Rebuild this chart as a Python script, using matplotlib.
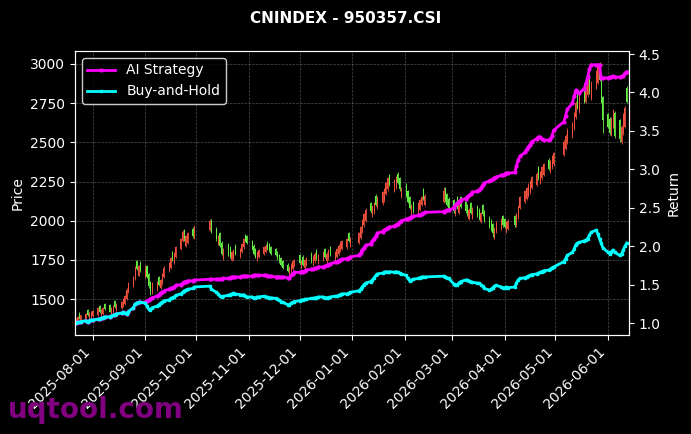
import numpy as np
import pandas as pd
import matplotlib
matplotlib.use("Agg")
import matplotlib.pyplot as plt
import matplotlib.dates as mdates

# trading calendar (weekdays minus exchange holidays)
holidays = ['2025-10-01', '2025-10-02', '2025-10-03', '2025-10-06', '2025-10-07', '2025-10-08',
            '2026-01-01', '2026-01-02',
            '2026-02-16', '2026-02-17', '2026-02-18', '2026-02-19', '2026-02-20', '2026-02-23',
            '2026-04-06', '2026-05-01', '2026-05-04', '2026-05-05']
dates = pd.bdate_range('2025-07-22', '2026-06-12')
dates = dates[~dates.isin(pd.to_datetime(holidays))]

# daily OHLC, one line per month (Jul .. Jun)
open_ = [1340, 1350, 1410, 1360, 1370, 1430, 1375, 1385,
         1390, 1400, 1455, 1395, 1405, 1470, 1460, 1400, 1415, 1490, 1430, 1440, 1455, 1470, 1500, 1545, 1580, 1630, 1740, 1650, 1735,
         1640, 1710, 1660, 1610, 1540, 1560, 1640, 1570, 1600, 1640, 1680, 1700, 1800, 1730, 1770, 1820, 1870, 1940, 1840, 1860, 1950, 1890,
         1940, 2000, 1950, 1850, 1920, 1860, 1760, 1850, 1830, 1750, 1760, 1840, 1770, 1800, 1830, 1910, 1900,
         1870, 1840, 1820, 1750, 1770, 1790, 1800, 1860, 1850, 1830, 1820, 1800, 1780, 1760, 1740, 1720, 1660, 1670, 1690, 1710,
         1780, 1700, 1770, 1700, 1720, 1790, 1720, 1740, 1810, 1730, 1750, 1820, 1740, 1760, 1830, 1750, 1770, 1790, 1810, 1820, 1830, 1920, 1840,
         1860, 1890, 1930, 1970, 2000, 2110, 2030, 2050, 2160, 2080, 2110, 2130, 2170, 2200, 2290, 2190, 2210, 2300, 2270, 2150,
         2230, 2190, 2150, 2040, 2120, 2050, 2070, 2100, 2200, 2100, 2120, 2210, 2170, 2140,
         2130, 2040, 2150, 2050, 2150, 2120, 2100, 2010, 2110, 2020, 2090, 2070, 1990, 2100, 2060, 2020, 2000, 1980, 1890, 1930, 1950, 2030,
         2010, 1930, 1950, 2030, 1970, 2020, 2080, 2120, 2140, 2160, 2180, 2210, 2230, 2340, 2240, 2270, 2290, 2390, 2310, 2340, 2360,
         2420, 2460, 2500, 2540, 2590, 2660, 2820, 2700, 2870, 2760, 2800, 2930, 2780, 2850, 2880, 3000, 2900, 2790,
         2680, 2650, 2550, 2600, 2690, 2640, 2500, 2560, 2600, 2850]
high = [1380, 1392, 1415, 1400, 1410, 1436, 1418, 1426,
        1432, 1448, 1462, 1436, 1452, 1476, 1466, 1446, 1462, 1496, 1476, 1488, 1508, 1528, 1568, 1610, 1650, 1712, 1748, 1720, 1742,
        1715, 1718, 1668, 1618, 1606, 1618, 1648, 1626, 1668, 1708, 1738, 1768, 1808, 1798, 1838, 1888, 1940, 1948, 1908, 1928, 1958, 1972,
        2012, 2008, 1958, 1908, 1928, 1868, 1828, 1858, 1838, 1808, 1818, 1848, 1828, 1858, 1888, 1918, 1908,
        1878, 1848, 1828, 1808, 1818, 1838, 1848, 1868, 1858, 1838, 1828, 1808, 1788, 1768, 1748, 1728, 1708, 1728, 1748, 1758,
        1788, 1748, 1778, 1758, 1768, 1798, 1778, 1798, 1818, 1788, 1808, 1828, 1798, 1818, 1838, 1808, 1828, 1848, 1868, 1878, 1888, 1928, 1898,
        1928, 1968, 2008, 2048, 2078, 2118, 2098, 2118, 2168, 2158, 2188, 2208, 2248, 2278, 2298, 2268, 2288, 2308, 2278, 2218,
        2238, 2198, 2158, 2108, 2128, 2118, 2138, 2158, 2208, 2168, 2215, 2218, 2178, 2148,
        2138, 2108, 2158, 2128, 2158, 2128, 2108, 2078, 2118, 2088, 2098, 2078, 2058, 2108, 2068, 2028, 2008, 1988, 1958, 1998, 2018, 2038,
        2018, 1998, 2008, 2038, 2048, 2098, 2158, 2198, 2218, 2238, 2258, 2288, 2308, 2348, 2318, 2348, 2368, 2398, 2388, 2418, 2438,
        2512, 2552, 2592, 2632, 2692, 2762, 2828, 2812, 2878, 2862, 2912, 2938, 2892, 2962, 2992, 3010, 2912, 2798,
        2690, 2660, 2660, 2710, 2700, 2650, 2610, 2690, 2730, 2860]
low = [1335, 1345, 1372, 1355, 1365, 1392, 1370, 1380,
       1384, 1394, 1408, 1388, 1398, 1428, 1414, 1394, 1408, 1444, 1424, 1434, 1448, 1464, 1494, 1538, 1574, 1622, 1682, 1644, 1672,
       1632, 1632, 1572, 1525, 1532, 1552, 1582, 1562, 1592, 1632, 1672, 1692, 1742, 1722, 1762, 1812, 1862, 1872, 1832, 1852, 1892, 1882,
       1932, 1922, 1872, 1842, 1832, 1782, 1752, 1772, 1762, 1742, 1752, 1782, 1762, 1792, 1822, 1862, 1852,
       1812, 1782, 1762, 1742, 1762, 1782, 1792, 1812, 1802, 1782, 1772, 1752, 1732, 1712, 1692, 1672, 1652, 1662, 1682, 1702,
       1722, 1692, 1712, 1692, 1712, 1732, 1712, 1732, 1752, 1722, 1742, 1762, 1732, 1752, 1772, 1742, 1762, 1782, 1802, 1812, 1822, 1862, 1832,
       1852, 1882, 1922, 1962, 1992, 2052, 2022, 2042, 2092, 2072, 2102, 2122, 2162, 2192, 2222, 2182, 2202, 2232, 2192, 2142,
       2152, 2112, 2072, 2032, 2052, 2042, 2062, 2092, 2132, 2092, 2112, 2122, 2092, 2072,
       2052, 2032, 2072, 2042, 2082, 2052, 2032, 2002, 2042, 2012, 2022, 2002, 1982, 2032, 1992, 1952, 1932, 1895, 1882, 1922, 1942, 1962,
       1952, 1922, 1942, 1962, 1962, 2012, 2072, 2112, 2132, 2152, 2172, 2202, 2222, 2262, 2232, 2262, 2282, 2322, 2302, 2332, 2352,
       2410, 2450, 2490, 2530, 2580, 2650, 2710, 2690, 2750, 2750, 2790, 2810, 2770, 2840, 2870, 2890, 2750, 2560,
       2590, 2550, 2540, 2590, 2530, 2500, 2490, 2550, 2590, 2750]
close = [1372, 1385, 1380, 1395, 1405, 1398, 1412, 1420,
         1425, 1440, 1415, 1430, 1445, 1435, 1420, 1440, 1455, 1450, 1470, 1480, 1500, 1520, 1560, 1600, 1640, 1700, 1690, 1710, 1680,
         1690, 1640, 1580, 1540, 1600, 1610, 1590, 1620, 1660, 1700, 1730, 1760, 1750, 1790, 1830, 1880, 1930, 1880, 1900, 1920, 1900, 1960,
         2000, 1930, 1880, 1900, 1840, 1790, 1820, 1780, 1770, 1800, 1810, 1790, 1820, 1850, 1880, 1870, 1860,
         1820, 1790, 1770, 1800, 1810, 1830, 1840, 1820, 1810, 1790, 1780, 1760, 1740, 1720, 1700, 1680, 1700, 1720, 1740, 1750,
         1730, 1740, 1720, 1750, 1760, 1740, 1770, 1790, 1760, 1780, 1800, 1770, 1790, 1810, 1780, 1800, 1820, 1840, 1860, 1870, 1880, 1870, 1890,
         1920, 1960, 2000, 2040, 2070, 2060, 2090, 2110, 2100, 2150, 2180, 2200, 2240, 2270, 2230, 2260, 2280, 2240, 2200, 2210,
         2160, 2120, 2080, 2100, 2060, 2110, 2130, 2150, 2140, 2160, 2190, 2130, 2100, 2080,
         2060, 2100, 2080, 2120, 2090, 2060, 2040, 2070, 2050, 2080, 2030, 2010, 2050, 2040, 2000, 1960, 1940, 1920, 1950, 1990, 2010, 1970,
         1960, 1990, 2000, 1970, 2040, 2090, 2150, 2190, 2210, 2230, 2250, 2280, 2300, 2270, 2310, 2340, 2360, 2330, 2380, 2410, 2430,
         2500, 2540, 2580, 2620, 2680, 2750, 2720, 2800, 2760, 2850, 2900, 2820, 2880, 2950, 2980, 2900, 2760, 2640,
         2600, 2560, 2650, 2700, 2540, 2520, 2600, 2680, 2720, 2760]

# cumulative returns
ai_strategy = [1.00, 1.01, 1.01, 1.02, 1.03, 1.02, 1.03, 1.04,
               1.04, 1.05, 1.05, 1.06, 1.07, 1.08, 1.08, 1.09, 1.10, 1.11, 1.12, 1.13, 1.14, 1.13, 1.12, 1.15, 1.20, 1.25, 1.26, 1.27, 1.27,
               1.27, 1.29, 1.30, 1.31, 1.33, 1.35, 1.37, 1.39, 1.40, 1.42, 1.44, 1.45, 1.46, 1.47, 1.49, 1.50, 1.52, 1.53, 1.54, 1.55, 1.55, 1.56,
               1.57, 1.57, 1.57, 1.57, 1.57, 1.57, 1.58, 1.58, 1.59, 1.60, 1.60, 1.60, 1.60, 1.61, 1.61, 1.61, 1.61,
               1.61, 1.62, 1.62, 1.62, 1.62, 1.62, 1.62, 1.61, 1.61, 1.61, 1.60, 1.60, 1.60, 1.60, 1.60, 1.59, 1.59, 1.62, 1.64, 1.66,
               1.66, 1.67, 1.67, 1.68, 1.69, 1.70, 1.70, 1.71, 1.72, 1.73, 1.73, 1.74, 1.75, 1.76, 1.77, 1.79, 1.80, 1.81, 1.82, 1.83, 1.84, 1.85, 1.86,
               1.88, 1.91, 1.95, 1.98, 2.01, 2.03, 2.07, 2.10, 2.13, 2.17, 2.19, 2.21, 2.22, 2.24, 2.25, 2.26, 2.28, 2.29, 2.31, 2.33,
               2.35, 2.36, 2.37, 2.38, 2.39, 2.40, 2.41, 2.42, 2.43, 2.44, 2.45, 2.46, 2.47, 2.47,
               2.50, 2.53, 2.56, 2.58, 2.60, 2.62, 2.64, 2.66, 2.68, 2.70, 2.72, 2.73, 2.76, 2.79, 2.82, 2.85, 2.86, 2.87, 2.89, 2.90, 2.92, 2.93,
               2.94, 2.95, 2.95, 2.96, 3.04, 3.12, 3.17, 3.22, 3.26, 3.29, 3.32, 3.36, 3.40, 3.42, 3.42, 3.40, 3.38, 3.38, 3.39, 3.44, 3.51,
               3.62, 3.70, 3.78, 3.86, 3.95, 4.03, 4.01, 3.99, 4.05, 4.12, 4.20, 4.30, 4.36, 4.36, 4.36, 4.36, 4.19, 4.19,
               4.19, 4.20, 4.20, 4.21, 4.20, 4.20, 4.21, 4.22, 4.25, 4.27]
buy_hold = [1.00, 1.01, 1.01, 1.02, 1.03, 1.02, 1.03, 1.04,
            1.04, 1.05, 1.05, 1.06, 1.07, 1.08, 1.08, 1.09, 1.10, 1.11, 1.12, 1.13, 1.14, 1.13, 1.12, 1.15, 1.20, 1.25, 1.26, 1.27, 1.27,
            1.26, 1.22, 1.18, 1.17, 1.20, 1.22, 1.24, 1.26, 1.27, 1.29, 1.30, 1.32, 1.33, 1.34, 1.36, 1.38, 1.40, 1.42, 1.43, 1.44, 1.45, 1.47,
            1.48, 1.44, 1.40, 1.38, 1.35, 1.34, 1.35, 1.36, 1.37, 1.38, 1.39, 1.38, 1.37, 1.36, 1.37, 1.35, 1.34,
            1.34, 1.33, 1.33, 1.34, 1.34, 1.35, 1.34, 1.34, 1.33, 1.33, 1.32, 1.31, 1.30, 1.28, 1.27, 1.24, 1.24, 1.26, 1.27, 1.28,
            1.29, 1.30, 1.30, 1.31, 1.31, 1.32, 1.32, 1.33, 1.33, 1.34, 1.34, 1.33, 1.33, 1.33, 1.34, 1.35, 1.35, 1.36, 1.37, 1.38, 1.38, 1.39, 1.40,
            1.42, 1.44, 1.47, 1.50, 1.52, 1.54, 1.56, 1.59, 1.62, 1.64, 1.65, 1.66, 1.67, 1.66, 1.67, 1.66, 1.67, 1.66, 1.65, 1.64,
            1.62, 1.58, 1.55, 1.56, 1.57, 1.58, 1.59, 1.60, 1.60, 1.60, 1.61, 1.60, 1.59, 1.58,
            1.51, 1.49, 1.50, 1.52, 1.54, 1.56, 1.56, 1.55, 1.54, 1.53, 1.52, 1.52, 1.50, 1.48, 1.45, 1.43, 1.44, 1.46, 1.48, 1.49, 1.47, 1.46,
            1.46, 1.47, 1.46, 1.47, 1.52, 1.56, 1.58, 1.59, 1.60, 1.61, 1.62, 1.63, 1.64, 1.65, 1.66, 1.67, 1.68, 1.69, 1.70, 1.72, 1.73,
            1.80, 1.84, 1.88, 1.92, 1.96, 2.02, 2.04, 2.05, 2.07, 2.08, 2.10, 2.14, 2.18, 2.21, 2.16, 2.10, 2.04, 1.98,
            1.92, 1.90, 1.93, 1.95, 1.92, 1.88, 1.90, 1.95, 2.00, 2.04]

print(len(dates), len(open_), len(high), len(low), len(close), len(ai_strategy), len(buy_hold))

RED = '#f0503c'
GREEN = '#66ee44'

o = np.array(open_, dtype=float)
h = np.array(high, dtype=float)
l = np.array(low, dtype=float)
c = np.array(close, dtype=float)
x = mdates.date2num(dates)
cols = np.where(c >= o, RED, GREEN)

fig = plt.figure(figsize=(6.91, 4.34), dpi=100, facecolor='black')
ax = fig.add_axes([0.1085, 0.228, 0.8018, 0.6545])
ax.set_facecolor('black')

ax.vlines(x, l, h, colors=cols, linewidth=0.6)
ax.bar(x, np.abs(c - o), bottom=np.minimum(o, c), width=0.6, color=cols, linewidth=0)

ax.set_ylim(1270, 3083)
ax.set_xlim(mdates.date2num(pd.Timestamp('2025-07-21 12:00')),
            mdates.date2num(pd.Timestamp('2026-06-13 10:00')))
ax.set_ylabel('Price', color='white')
ax.grid(True, color='gray', linestyle='--', linewidth=0.5, alpha=0.6)
ax.set_axisbelow(True)

ax2 = ax.twinx()
ax2.plot(x, ai_strategy, color='#ff00ff', linewidth=2, marker='o', markersize=2, label='AI Strategy')
ax2.plot(x, buy_hold, color='#00ffff', linewidth=2, marker='s', markersize=2, label='Buy-and-Hold')
ax2.set_ylim(0.844, 4.54)
ax2.set_ylabel('Return', color='white')

for a in (ax, ax2):
    a.tick_params(colors='white', labelsize=10)
    for s in a.spines.values():
        s.set_color('white')

ax.xaxis.set_major_locator(mdates.MonthLocator())
ax.xaxis.set_major_formatter(mdates.DateFormatter('%Y-%m-%d'))
plt.setp(ax.get_xticklabels(), rotation=45, ha='right')

leg = ax2.legend(loc='upper left', facecolor='black', edgecolor='white', fontsize=10)
for t in leg.get_texts():
    t.set_color('white')

fig.suptitle('CNINDEX - 950357.CSI', color='white', fontsize=11, fontweight='bold', y=0.975)
fig.text(0.012, 0.022, 'uqtool.com', color='#800080', fontsize=20, fontweight='bold', va='bottom')

fig.savefig('out.png', dpi=100, facecolor='black')
